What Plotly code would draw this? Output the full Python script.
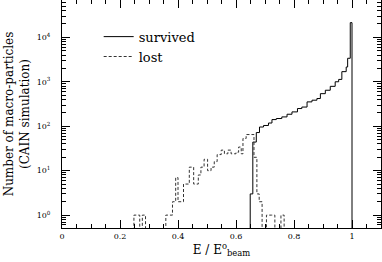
import plotly.graph_objects as go

# ---- data ----
lost_edges = [0.24, 0.248, 0.258, 0.268, 0.277, 0.288, 0.358, 0.381, 0.392, 0.400,
              0.419, 0.439, 0.454, 0.470, 0.479, 0.490, 0.502, 0.514, 0.525, 0.535,
              0.549, 0.560, 0.572, 0.583, 0.600, 0.609, 0.618, 0.624, 0.635, 0.662,
              0.672, 0.680, 0.690, 0.705, 0.722, 0.734, 0.755, 0.766, 0.78]
lost_counts = [0, 1, 1, 0, 1, 0, 1, 2, 7, 2,
               5, 12, 5, 8, 12, 18, 10, 12, 16, 23,
               29, 24, 29, 24, 26, 34, 24, 53, 65, 20,
               3, 2, 0, 1, 1, 0, 1, 0]

surv_edges = [0.64, 0.649, 0.658, 0.670, 0.681, 0.695, 0.712, 0.724, 0.739, 0.758,
              0.776, 0.793, 0.812, 0.827, 0.845, 0.862, 0.879, 0.891, 0.908, 0.925,
              0.942, 0.954, 0.965, 0.980, 0.985, 0.994, 1.000, 1.01]
surv_counts = [0, 3, 44, 72, 96, 104, 118, 141, 149, 162,
               186, 210, 250, 270, 353, 385, 420, 540, 645, 790,
               1000, 1130, 1690, 2150, 3380, 21400, 0]

x_tick_vals = [0, 0.2, 0.4, 0.6, 0.8, 1.0]
x_tick_text = ["0", "0.2", "0.4", "0.6", "0.8", "1"]
y_tick_vals = [1, 10, 100, 1000, 10000]
y_tick_text = ["10<sup>0</sup>", "10<sup>1</sup>", "10<sup>2</sup>", "10<sup>3</sup>", "10<sup>4</sup>"]

FLOOR = 1e-3  # stands in for empty bins on the log axis (drawn off the bottom)


def step_y(counts):
    ys = [c if c > 0 else FLOOR for c in counts]
    return ys + [ys[-1]]


FONT = "DejaVu Serif"

fig = go.Figure()
fig.add_trace(go.Scatter(x=surv_edges, y=step_y(surv_counts), mode="lines",
                         line=dict(shape="hv", color="black", width=1),
                         name="survived"))
fig.add_trace(go.Scatter(x=lost_edges, y=step_y(lost_counts), mode="lines",
                         line=dict(shape="hv", color="#333333", width=1, dash="3px,2px"),
                         name="lost"))

minor_y = [m * 10 ** k for k in range(-1, 5) for m in range(2, 10)]

fig.update_layout(
    width=382, height=262,
    margin=dict(l=62, r=1, t=0, b=34),
    paper_bgcolor="white", plot_bgcolor="white",
    font=dict(family=FONT, color="black"),
    showlegend=True,
    legend=dict(x=0.115, y=0.905, xanchor="left", yanchor="top",
                bgcolor="rgba(0,0,0,0)", font=dict(size=13, family=FONT),
                itemwidth=30),
    xaxis=dict(range=[0, 1.1], showgrid=False, zeroline=False, automargin=False,
               showline=True, linecolor="black", linewidth=1, mirror="allticks",
               ticks="inside", ticklen=8, tickcolor="black",
               tickmode="array", tickvals=x_tick_vals, ticktext=x_tick_text,
               tickfont=dict(size=8, family=FONT),
               minor=dict(dtick=0.05, tick0=0, ticks="inside", ticklen=4, tickcolor="black"),
               title=dict(text="E / E<sup>o</sup><sub>beam</sub>", font=dict(size=12, family=FONT),
                          standoff=0)),
    yaxis=dict(type="log", range=[-0.29, 4.84], showgrid=False, zeroline=False, automargin=False,
               showline=True, linecolor="black", linewidth=1, mirror="allticks",
               ticks="inside", ticklen=8, tickcolor="black",
               tickmode="array", tickvals=y_tick_vals, ticktext=y_tick_text,
               tickfont=dict(size=8, family=FONT), ticklabelstandoff=9,
               minor=dict(tickvals=minor_y, ticks="inside", ticklen=4, tickcolor="black"),
               title=dict(text="Number of macro-particles<br>(CAIN simulation)",
                          font=dict(size=12, family=FONT), standoff=4)),
)

fig.write_html("out.html", config={"displayModeBar": False},
               post_script="document.body.style.margin='0px';")
